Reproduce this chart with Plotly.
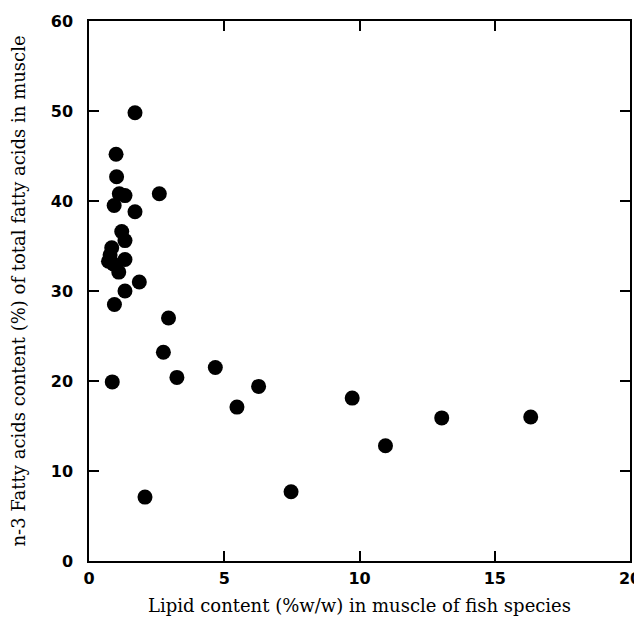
import plotly.graph_objects as go

# Lipid content (%w/w) and n-3 fatty acid content (%) per species
lipid = [1.70, 1.00, 1.02, 1.12, 1.33, 0.93, 2.60, 1.70, 1.21, 1.33,
         0.84, 0.78, 0.72, 0.90, 1.33, 1.10, 1.86, 1.33, 0.94, 2.94,
         2.75, 3.25, 0.86, 4.67, 6.27, 5.47, 9.73, 10.96, 7.47, 2.07,
         13.04, 16.33]
n3 = [49.8, 45.2, 42.7, 40.8, 40.6, 39.5, 40.8, 38.8, 36.6, 35.6,
      34.8, 34.0, 33.3, 33.0, 33.5, 32.1, 31.0, 30.0, 28.5, 27.0,
      23.2, 20.4, 19.9, 21.5, 19.4, 17.1, 18.1, 12.8, 7.7, 7.1,
      15.9, 16.0]

x_ticks = [0, 5, 10, 15, 20]
y_ticks = [0, 10, 20, 30, 40, 50, 60]

fig = go.Figure(go.Scatter(
    x=lipid, y=n3, mode="markers",
    marker=dict(color="black", size=15, line=dict(width=0)),
    showlegend=False,
))

tick_font = dict(family="DejaVu Sans, sans-serif", size=16, color="black", weight="bold")
title_font = dict(family="DejaVu Serif, serif", size=18, color="black")

fig.update_layout(
    width=634, height=612,
    margin=dict(l=81, r=12, t=13, b=59),
    plot_bgcolor="white", paper_bgcolor="white",
    xaxis=dict(
        range=[0, 20], tickvals=x_ticks, ticks="inside", ticklen=10,
        tickwidth=1.5, tickcolor="black", showline=True, linecolor="black",
        linewidth=1.5, mirror="allticks", showgrid=False, zeroline=False,
        tickfont=tick_font, automargin=False, ticklabelstandoff=2,
        title=dict(text="Lipid content (%w/w) in muscle of fish species",
                   font=title_font, standoff=12),
    ),
    yaxis=dict(
        range=[0, 60], tickvals=y_ticks, ticks="inside", ticklen=10,
        tickwidth=1.5, tickcolor="black", showline=True, linecolor="black",
        linewidth=1.5, mirror="allticks", showgrid=False, zeroline=False,
        tickfont=tick_font, automargin=False, ticklabelstandoff=11,
        title=dict(text="n-3 Fatty acids content (%) of total fatty acids in muscle",
                   font=title_font, standoff=20),
    ),
)

fig.write_html("out.html")
